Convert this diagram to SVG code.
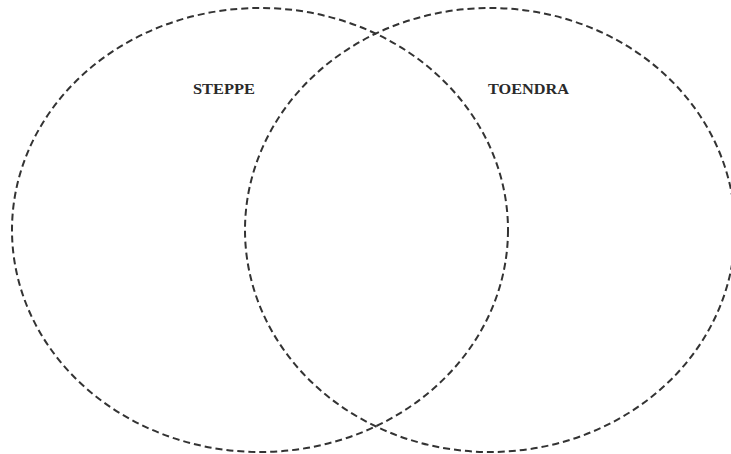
<svg xmlns="http://www.w3.org/2000/svg" width="731" height="454" viewBox="0 0 731 454">
  <style>
    .circle { fill: none; stroke: #333333; stroke-width: 2; stroke-dasharray: 7 4; }
    .label { font-family: "Liberation Serif", "DejaVu Serif", serif; font-size: 15px; font-weight: 600; fill: #2a2a2a; }
  </style>
  <rect width="731" height="454" fill="#ffffff"/>
  <g id="steppe">
    <ellipse class="circle" cx="260" cy="230" rx="248" ry="222"/>
    <text class="label" x="193" y="94" textLength="62" lengthAdjust="spacingAndGlyphs">STEPPE</text>
  </g>
  <g id="toendra">
    <ellipse class="circle" cx="490" cy="230" rx="245" ry="222"/>
    <text class="label" x="488" y="94" textLength="81" lengthAdjust="spacingAndGlyphs">TOENDRA</text>
  </g>
  <g id="connectors"></g>
</svg>
